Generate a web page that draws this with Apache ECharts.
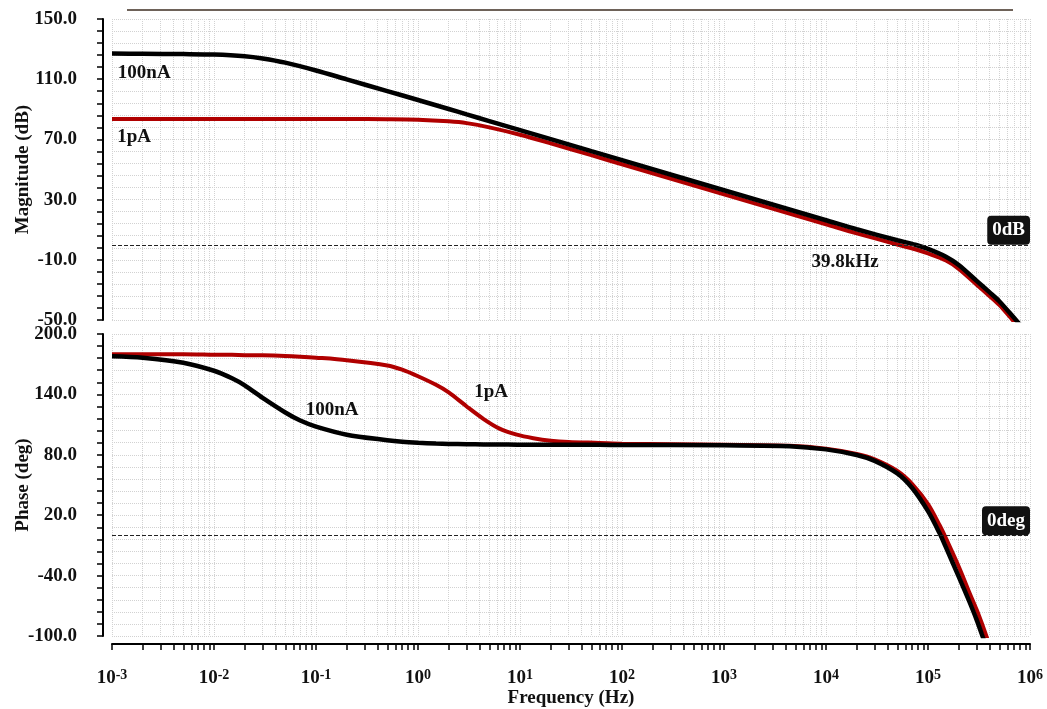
<!DOCTYPE html>
<html><head><meta charset="utf-8">
<script src="https://cdn.jsdelivr.net/npm/echarts@6/dist/echarts.min.js"></script>
<style>html,body{margin:0;padding:0;background:#fff}#c{width:1047px;height:709px}</style>
</head><body><div id="c"></div>
<script>
// ---- data (frequency in Hz) ----
const freqMag = [0.001, 0.002, 0.005, 0.01, 0.02, 0.03, 0.05, 0.1, 0.2, 0.5, 1, 2, 3, 5, 10, 20, 50, 100, 1000, 10000, 20000, 50000, 75000, 100000, 150000, 200000, 300000, 400000, 500000, 750000, 1000000];
const mag100nA = [127.0, 126.9, 126.7, 126.4, 125.3, 123.8, 121.0, 115.8, 109.9, 102.1, 96.2, 90.2, 86.6, 82.2, 76.2, 70.2, 62.2, 56.2, 36.2, 16.3, 10.3, 3.0, 0.0, -2.8, -8.0, -13.5, -24.0, -31.5, -37.5, -51.0, -60.0];
const mag1pA = [83.5, 83.5, 83.5, 83.5, 83.5, 83.5, 83.5, 83.5, 83.5, 83.4, 83.1, 82.0, 80.8, 78.0, 73.1, 67.4, 59.5, 53.5, 33.5, 13.6, 7.6, 0.2, -3.0, -5.8, -10.5, -16.0, -26.5, -34.0, -40.0, -53.5, -62.0];

const freqPhase = [0.001, 0.002, 0.005, 0.01, 0.015, 0.02, 0.03, 0.05, 0.07, 0.1, 0.2, 0.5, 0.7, 1, 1.5, 2, 3, 4.4, 6.3, 9.3, 13.5, 20, 30, 60, 100, 1000, 4400, 10000, 20000, 30000, 50000, 70000, 100000, 130000, 150000, 200000, 250000, 300000, 350000, 400000];
const phase100nA = [178, 176.5, 171.5, 163.5, 156, 149, 136.5, 122, 114, 108, 100, 94.5, 93, 92, 91.2, 90.8, 90.5, 90.3, 90.2, 90.1, 90, 90, 90, 89.9, 89.8, 89.4, 88.6, 85.4, 79.8, 74, 61.5, 47, 24, 2, -12, -41, -64, -84, -103, -120];
const phase1pA = [180, 180, 180, 179.5, 179.3, 179, 178.8, 178.2, 177.5, 176.5, 174, 168.8, 164.5, 158, 149.5, 142, 128, 115.5, 106, 100, 96.5, 94, 92.7, 91.8, 91, 90, 89, 86, 80.8, 75.5, 64, 51, 31, 10, -3, -31, -55, -74, -92, -109];

const decadeExponents = [-3, -2, -1, 0, 1, 2, 3, 4, 5, 6];
const seriesNames = ['100nA', '1pA'];

// ---- helpers ----
const FONT = "'Liberation Serif','Times New Roman','DejaVu Serif',serif";
const toPairs = (fs, vs) => fs.map((f, i) => [Math.log10(f), vs[i]]);
const logGrid = [];
for (let n = decadeExponents[0]; n < decadeExponents[decadeExponents.length - 1]; n++) {
  for (let k = 1; k <= 9; k++) logGrid.push(n + Math.log10(k));
}
logGrid.push(decadeExponents[decadeExponents.length - 1]);

const dotted = { type: 'dotted', color: '#d2d2d2', width: 1 };
const txt = { fontFamily: FONT, fontWeight: 'bold', fontSize: 19, color: '#111' };

function xAxisFor(gi, visible) {
  return {
    type: 'value', gridIndex: gi, min: -3, max: 6, interval: 1,
    offset: visible ? 8 : 0,
    axisLine: { show: visible, onZero: false, lineStyle: { color: '#000', width: 2 } },
    axisTick: { show: visible, customValues: logGrid, length: 6, lineStyle: { color: '#000', width: 1.5 } },
    axisLabel: {
      show: visible, customValues: decadeExponents, margin: 24,
      formatter: v => '{b|10}{s|' + v + '}',
      rich: {
        b: Object.assign({}, txt, { fontSize: 19, lineHeight: 20 }),
        s: Object.assign({}, txt, { fontSize: 14, lineHeight: 20, verticalAlign: 'top', padding: [0, 0, 8, 0] })
      }
    },
    splitLine: { show: true, lineStyle: dotted },
    name: visible ? 'Frequency (Hz)' : '', nameLocation: 'middle', nameGap: 45,
    nameMoveOverlap: false,
    nameTextStyle: txt
  };
}
function yAxisFor(gi, min, max, interval, name) {
  return {
    type: 'value', gridIndex: gi, min: min, max: max, interval: interval, offset: 9,
    axisLine: { show: true, onZero: false, lineStyle: { color: '#000', width: 2 } },
    axisTick: { show: true, length: 6, lineStyle: { color: '#000', width: 1.5 } },
    minorTick: { show: true, splitNumber: 5, length: 6, lineStyle: { color: '#000', width: 1.5 } },
    splitLine: { show: true, lineStyle: dotted },
    minorSplitLine: { show: true, lineStyle: dotted },
    axisLabel: Object.assign({}, txt, { formatter: v => v.toFixed(1), margin: 26 }),
    name: name, nameLocation: 'middle', nameRotate: 90, nameGap: 70,
    nameMoveOverlap: false,
    nameTextStyle: txt
  };
}
function zeroLine(text) {
  return {
    silent: true, symbol: 'none',
    lineStyle: { type: 'dashed', color: '#222', width: 1 },
    label: {
      show: true, formatter: text, position: 'insideEndTop', distance: 0,
      backgroundColor: '#111', color: '#fff', fontFamily: FONT, fontWeight: 'bold',
      fontSize: 19, padding: [5, 5, 5, 5], borderRadius: 4
    },
    data: [{ yAxis: 0 }]
  };
}
function textPoint(text, freq, val) {
  return { coord: [Math.log10(freq), val], value: text,
    symbolSize: 0, label: Object.assign({ show: true, formatter: text, position: 'inside' }, txt) };
}

const RED = '#b00000', BLACK = '#000';
const lineBase = { type: 'line', showSymbol: false, smooth: 0.3, clip: true, silent: true };

const option = {
  animation: false,
  backgroundColor: '#fff',
  grid: [
    { left: 112, top: 19, right: 17, height: 301, outerBoundsMode: 'none', containLabel: false },
    { left: 112, top: 334, right: 17, height: 302, outerBoundsMode: 'none', containLabel: false }
  ],
  xAxis: [xAxisFor(0, false), xAxisFor(1, true)],
  yAxis: [yAxisFor(0, -50, 150, 40, 'Magnitude (dB)'), yAxisFor(1, -100, 200, 60, 'Phase (deg)')],
  graphic: [{ type: 'line', shape: { x1: 127, y1: 10, x2: 1013, y2: 10 }, style: { stroke: '#6e6259', lineWidth: 2 } }],
  series: [
    Object.assign({}, lineBase, { name: seriesNames[1], xAxisIndex: 0, yAxisIndex: 0,
      data: toPairs(freqMag, mag1pA), lineStyle: { color: RED, width: 4 },
      markPoint: { symbol: 'circle', data: [textPoint('1pA', 0.00165, 71.6)] } }),
    Object.assign({}, lineBase, { name: seriesNames[0], xAxisIndex: 0, yAxisIndex: 0,
      data: toPairs(freqMag, mag100nA), lineStyle: { color: BLACK, width: 4.5 },
      markLine: zeroLine('0dB'),
      markPoint: { symbol: 'circle', data: [textPoint('100nA', 0.00207, 114.1), textPoint('39.8kHz', 15400, -11.5)] } }),
    Object.assign({}, lineBase, { name: seriesNames[1] + ' phase', xAxisIndex: 1, yAxisIndex: 1,
      data: toPairs(freqPhase, phase1pA), lineStyle: { color: RED, width: 4 },
      markPoint: { symbol: 'circle', data: [textPoint('1pA', 5.2, 142.4)] } }),
    Object.assign({}, lineBase, { name: seriesNames[0] + ' phase', xAxisIndex: 1, yAxisIndex: 1,
      data: toPairs(freqPhase, phase100nA), lineStyle: { color: BLACK, width: 4.5 },
      markLine: zeroLine('0deg'),
      markPoint: { symbol: 'circle', data: [textPoint('100nA', 0.1436, 124.5)] } })
  ]
};
const chart = echarts.init(document.getElementById('c'), null, { renderer: 'canvas' });
chart.setOption(option);
</script></body></html>
